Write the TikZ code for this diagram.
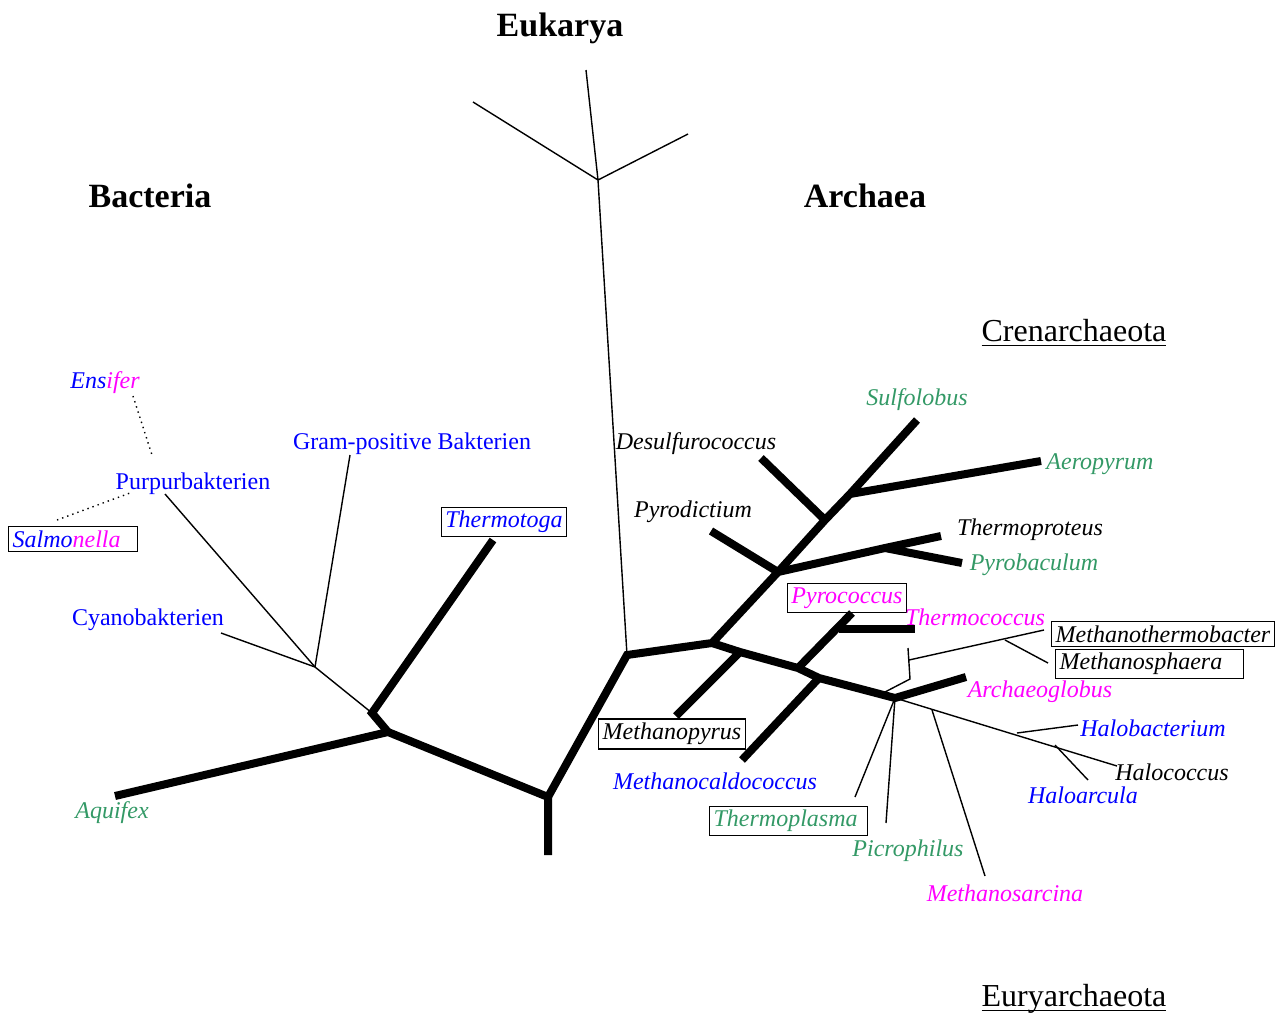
\documentclass[tikz,border=0pt]{standalone}
\usepackage{fontspec}
\setmainfont{Liberation Serif}
\usepackage{xcolor}
\usetikzlibrary{positioning}

\definecolor{bacblue}{RGB}{0,0,255}
\definecolor{hotpink}{RGB}{255,0,255}
\definecolor{seagrn}{RGB}{51,153,102}

\begin{document}
\begin{tikzpicture}[
    x=0.5pt, y=-0.5pt,
    thickbr/.style={line width=4pt},
    thinbr/.style={line width=0.7pt},
    dotbr/.style={line width=0.7pt, dotted},
    lab/.style={font=\fontsize{12}{14}\selectfont, inner sep=1pt, yshift=-1.5pt},
    sp/.style={lab, font=\fontsize{12}{14}\selectfont\itshape},
    boxed/.style={draw, line width=0.6pt, inner sep=2pt},
    domtitle/.style={font=\fontsize{17}{20}\selectfont\bfseries, yshift=-1.5pt},
    phylum/.style={font=\fontsize{16}{19}\selectfont, yshift=-1.5pt}
]
\useasboundingbox (0,0) rectangle (1280,1013);

% domain and phylum titles
\node[domtitle] (eukarya) at (560,25) {Eukarya};
\node[domtitle] (bacteria) at (150,193) {Bacteria};
\node[domtitle] (archaea) at (865,193) {Archaea};
\node[phylum] (crena) at (1074,330) {\underline{Crenarchaeota}};
\node[phylum] (eurya) at (1074,995) {\underline{Eur\smash{y}archaeota}};

% branch points
\coordinate (root) at (548,855);
\coordinate (r0) at (548,797);
\coordinate (b0) at (388,732);
\coordinate (b1) at (372,713);
\coordinate (gp) at (315,667);
\coordinate (a1) at (627,655);
\coordinate (a2) at (712,643);
\coordinate (eu) at (598,180);
\coordinate (c1) at (778,572);
\coordinate (c2) at (825,520);
\coordinate (c3) at (850,494);
\coordinate (tp) at (885,548);
\coordinate (e1) at (740,652);
\coordinate (e2) at (798,668);
\coordinate (e3) at (819,678);
\coordinate (e4) at (895,698);
\coordinate (pc) at (839,629);
\coordinate (mb0) at (885,692);
\coordinate (mb1) at (910,679);
\coordinate (mb2) at (909,660);
\coordinate (mb3) at (1005,640);
\coordinate (ms) at (932,710);
\coordinate (hb) at (1017,733);
\coordinate (ha) at (1055,745);

% leaf ends
\coordinate (aquifexE) at (115,796);
\coordinate (thermotogaE) at (493,540);
\coordinate (cyanoE) at (221,633);
\coordinate (gramE) at (350,455);
\coordinate (purpE) at (165,494);
\coordinate (ensE) at (133,396);
\coordinate (ensP) at (152,455);
\coordinate (salE) at (57,520);
\coordinate (salP) at (130,493);
\coordinate (eukTop) at (586,70);
\coordinate (eukL) at (473,102);
\coordinate (eukR) at (688,134);
\coordinate (sulfoE) at (917,420);
\coordinate (pyrodE) at (711,531);
\coordinate (desulE) at (761,458);
\coordinate (aeroE) at (1041,461);
\coordinate (tproE) at (941,536);
\coordinate (pbacE) at (962,563);
\coordinate (mpyrE) at (676,716);
\coordinate (pyrocE) at (852,613);
\coordinate (tcocE) at (915,629);
\coordinate (mcalE) at (742,760);
\coordinate (agloE) at (966,677);
\coordinate (mb1top) at (908,648);
\coordinate (mtbE) at (1044,630);
\coordinate (mspE) at (1048,663);
\coordinate (tplE) at (855,797);
\coordinate (picE) at (886,823);
\coordinate (msarE) at (985,876);
\coordinate (hcocE) at (1117,766);
\coordinate (hbacE) at (1078,725);
\coordinate (harcE) at (1088,780);

% thick branches
\draw[thickbr] (root) -- (r0) -- (b0) -- (aquifexE);
\draw[thickbr] (b0) -- (b1) -- (thermotogaE);
\draw[thickbr] (r0) -- (a1) -- (a2) -- (c1) -- (c2) -- (c3) -- (sulfoE);
\draw[thickbr] (c1) -- (pyrodE);
\draw[thickbr] (c2) -- (desulE);
\draw[thickbr] (c3) -- (aeroE);
\draw[thickbr] (c1) -- (tp) -- (tproE);
\draw[thickbr] (tp) -- (pbacE);
\draw[thickbr] (a2) -- (e1) -- (e2) -- (e3) -- (e4) -- (agloE);
\draw[thickbr] (e1) -- (mpyrE);
\draw[thickbr] (e2) -- (pyrocE);
\draw[thickbr] (pc) -- (tcocE);
\draw[thickbr] (e3) -- (mcalE);

% thin branches
\draw[thinbr] (b1) -- (gp) -- (cyanoE);
\draw[thinbr] (gp) -- (gramE);
\draw[thinbr] (gp) -- (purpE);
\draw[thinbr] (a1) -- (eu) -- (eukTop);
\draw[thinbr] (eu) -- (eukL);
\draw[thinbr] (eu) -- (eukR);
\draw[thinbr] (mb0) -- (mb1) -- (mb1top);
\draw[thinbr] (mb2) -- (mtbE);
\draw[thinbr] (mb3) -- (mspE);
\draw[thinbr] (e4) -- (tplE);
\draw[thinbr] (e4) -- (picE);
\draw[thinbr] (e4) -- (hcocE);
\draw[thinbr] (ms) -- (msarE);
\draw[thinbr] (hb) -- (hbacE);
\draw[thinbr] (ha) -- (harcE);
\draw[dotbr] (ensE) -- (ensP);
\draw[dotbr] (salE) -- (salP);

% bacteria labels
\node[lab, text=bacblue] (purpur) at (193,481) {Purpurbakterien};
\node[sp] (ensifer) at (105,380) {\textcolor{bacblue}{Ens}\textcolor{hotpink}{ifer}};
\node[sp, boxed, anchor=west] (salmonella) at (8,536) {\textcolor{bacblue}{Salmo}\textcolor{hotpink}{nella}\kern6.5pt};
\node[lab, text=bacblue] (gram) at (412,441) {Gram-positive Bakterien};
\node[sp, boxed, text=bacblue] (thermotoga) at (504,519) {Thermotoga};
\node[lab, text=bacblue] (cyano) at (148,617) {Cyanobakterien};
\node[sp, text=seagrn] (aquifex) at (112,810) {Aquifex};

% crenarchaeota labels
\node[sp] (desulfuro) at (696,441) {Desulfurococcus};
\node[sp] (pyrodictium) at (693,509) {Pyrodictium};
\node[sp, text=seagrn] (sulfolobus) at (917,397) {Sulfolobus};
\node[sp, text=seagrn] (aeropyrum) at (1100,461) {Aeropyrum};
\node[sp] (thermoproteus) at (1030,527) {Thermoproteus};
\node[sp, text=seagrn] (pyrobaculum) at (1034,562) {Pyrobaculum};

% euryarchaeota labels
\node[sp, boxed, text=hotpink] (pyrococcus) at (847,595) {Pyrococcus};
\node[sp, text=hotpink] (thermococcus) at (975,614) {Thermococcus};
\node[sp, boxed] (mthermo) at (1163,631) {Methanothermobacter};
\node[sp, boxed, anchor=west] (msphaera) at (1055,661) {Methanosphaera\kern8.5pt};
\node[sp, text=hotpink] (archaeoglobus) at (1040,689) {Archaeoglobus};
\node[sp, text=bacblue] (halobacterium) at (1153,725) {Halobacterium};
\node[sp] (halococcus) at (1172,769) {Halococcus};
\node[sp, text=bacblue] (haloarcula) at (1083,792) {Haloarcula};
\node[sp, boxed] (methanopyrus) at (672,731) {Methanopyrus};
\node[sp, text=bacblue] (mcaldo) at (715,778) {Methanocaldococcus};
\node[sp, boxed, text=seagrn, anchor=west] (thermoplasma) at (709,818) {Thermoplasma\kern3pt};
\node[sp, text=seagrn] (picrophilus) at (908,848) {Picrophilus};
\node[sp, text=hotpink] (msarcina) at (1005,890) {Methanosarcina};

\end{tikzpicture}
\end{document}
